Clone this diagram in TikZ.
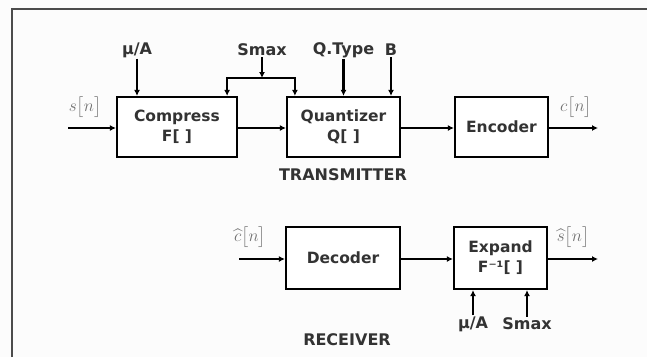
\documentclass[tikz,border=0pt]{standalone}
\usepackage{fontspec}
\setmainfont{DejaVu Sans}
\usepackage{amsmath}
\usepackage{tikz}
\usetikzlibrary{arrows.meta}
\definecolor{txt}{HTML}{333333}
\definecolor{sig}{HTML}{707070}
\tikzstyle{blk} = [draw=black, line width=2.2pt, fill=white, align=center, text=txt, font=\fontsize{15.5}{20}\selectfont\bfseries, inner sep=0pt]
\tikzstyle{lbl} = [text=txt, font=\fontsize{16}{18}\selectfont\bfseries, inner sep=1pt]
\tikzstyle{sig} = [text=sig, font=\fontsize{19}{21}\selectfont, inner sep=0pt]
\tikzstyle{es} = [line width=2.2pt, -{Latex[length=6pt,width=6pt]}]

\begin{document}
\begin{tikzpicture}[yscale=-1, x=1pt, y=1pt]
			\useasboundingbox[fill=white!98!gray] (0,0) rectangle (647,357);
			\draw[line width=2.4pt, color=black!70] (12,357) -- (12,9) -- (647,9);
			% transmitter
			\node[blk, minimum width=120pt, minimum height=60pt] (compress) at (177,127) {Compress\\F[ ]};
			\node[blk, minimum width=113pt, minimum height=60pt] (quant) at (343.5,127) {Quantizer\\Q[ ]};
			\node[blk, minimum width=93pt, minimum height=60pt] (encoder) at (501.5,127) {Encoder};
			\coordinate (sin) at (68,128);
			\coordinate (cout) at (598,128);
			\coordinate (split) at (262,78);
			\node[sig] (s) at (85,107) {$s\bigl[n\bigr]$};
			\node[sig] (c) at (576,107) {$c\bigl[n\bigr]$};
			\node[lbl] (muA) at (137,50) {μ/A};
			\node[lbl] (smax) at (262,50) {Smax};
			\node[lbl] (qtype) at (343.5,50) {Q.Type};
			\node[lbl] (bits) at (391,50) {B};
			\node[lbl] (tx) at (343,175) {TRANSMITTER};
			\draw[es] (sin) -- (compress.west |- sin);
			\draw[es] (compress.east |- sin) -- (quant.west |- sin);
			\draw[es] (quant.east |- sin) -- (encoder.west |- sin);
			\draw[es] (encoder.east |- sin) -- (cout);
			\draw[es] (muA.south) -- (muA.south |- compress.north);
			\draw[es] (qtype.south) -- (qtype.south |- quant.north);
			\draw[es] (bits.south) -- (bits.south |- quant.north);
			\draw[es] (smax.south) -- (split);
			\draw[es] (split) -| ([xshift=-11pt]compress.north east);
			\draw[es] (split) -| ([xshift=9pt]quant.north west);
			% receiver
			\node[blk, minimum width=114pt, minimum height=62pt] (decoder) at (343,258) {Decoder};
			\node[blk, minimum width=93pt, minimum height=62pt] (expand) at (500.5,258) {Expand\\F⁻¹[ ]};
			\coordinate (cin) at (239,259);
			\coordinate (sout) at (598,259);
			\node[sig] (chat) at (250,237) {$\widehat{c}\bigl[n\bigr]$};
			\node[sig] (shat) at (573,237) {$\widehat{s}\bigl[n\bigr]$};
			\node[lbl] (muA2) at (473,324) {μ/A};
			\node[lbl] (smax2) at (527,324) {Smax};
			\node[lbl] (rx) at (347,340) {RECEIVER};
			\draw[es] (cin) -- (decoder.west |- cin);
			\draw[es] (decoder.east |- cin) -- (expand.west |- cin);
			\draw[es] (expand.east |- cin) -- (sout);
			\draw[es] (muA2.north) -- (muA2.north |- expand.south);
			\draw[es] (smax2.north) -- (smax2.north |- expand.south);
		\end{tikzpicture}
\end{document}
